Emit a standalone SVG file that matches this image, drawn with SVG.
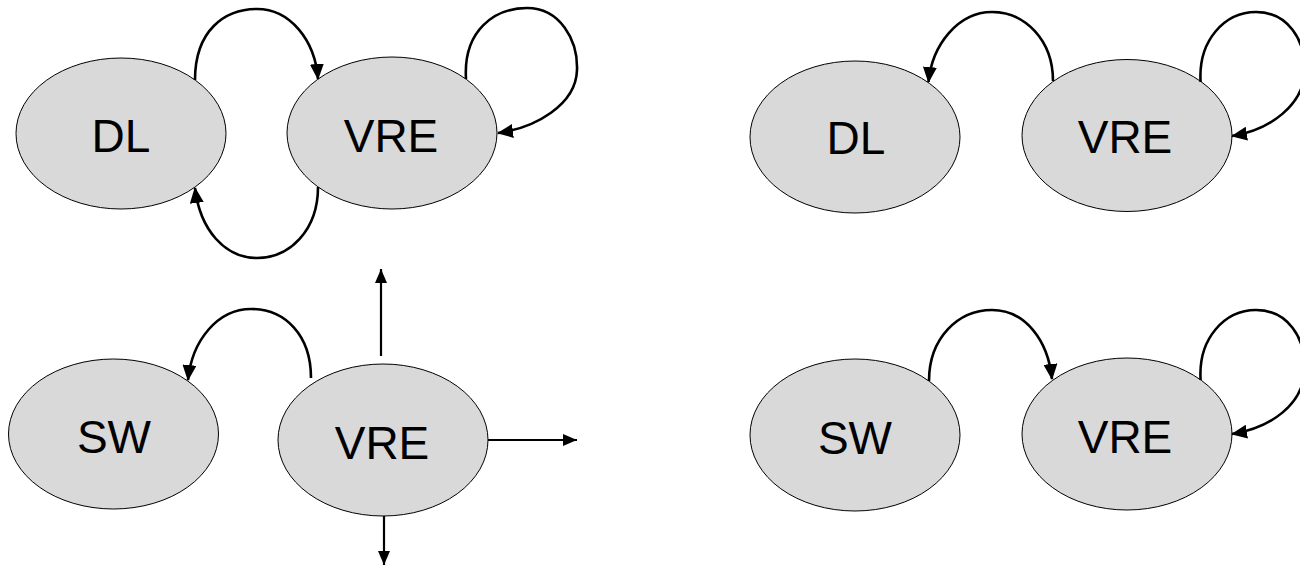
<svg xmlns="http://www.w3.org/2000/svg" width="1300" height="567" viewBox="0 0 1300 567">
<style>
.node ellipse{fill:#d9d9d9;stroke:#000;stroke-width:1}
.node text{font-family:"Liberation Sans",Arial,sans-serif;font-size:46px;fill:#000;text-anchor:middle}
.c{fill:none;stroke:#000;stroke-width:2.6;marker-end:url(#ah)}
.s{fill:none;stroke:#000;stroke-width:2.2;marker-end:url(#ah2)}
</style>
<defs>
<marker id="ah" markerUnits="userSpaceOnUse" viewBox="0 0 16 14" refX="15" refY="7" markerWidth="16" markerHeight="14" orient="auto">
<path d="M0,0 L16,7 L0,14 Z" fill="#000"/>
</marker>
<marker id="ah2" markerUnits="userSpaceOnUse" viewBox="0 0 14 12" refX="14" refY="6" markerWidth="14" markerHeight="12" orient="auto">
<path d="M0,0 L14,6 L0,12 Z" fill="#000"/>
</marker>
</defs>
<g id="tl-dl" class="node"><ellipse cx="121" cy="133.5" rx="105" ry="75.5"/><text x="121" y="152">DL</text></g>
<g id="tl-vre" class="node"><ellipse cx="392" cy="133" rx="105" ry="76"/><text x="391" y="152">VRE</text></g>
<g id="bl-sw" class="node"><ellipse cx="113.5" cy="434" rx="105" ry="75"/><text x="114" y="453">SW</text></g>
<g id="bl-vre" class="node"><ellipse cx="383" cy="440" rx="105" ry="76"/><text x="382" y="459">VRE</text></g>
<g id="tr-dl" class="node"><ellipse cx="855" cy="137" rx="105" ry="76"/><text x="856" y="154">DL</text></g>
<g id="tr-vre" class="node"><ellipse cx="1127" cy="135.5" rx="105" ry="76"/><text x="1125" y="153">VRE</text></g>
<g id="br-sw" class="node"><ellipse cx="855" cy="435" rx="105" ry="76"/><text x="855" y="454">SW</text></g>
<g id="br-vre" class="node"><ellipse cx="1127" cy="434" rx="105" ry="76"/><text x="1125" y="453">VRE</text></g>
<g id="connectors">
<path class="c" d="M195,80 C195,30 225,9 257,9 C290,9 315,40 318,79"/>
<path class="c" d="M466,79 C463,30 495,8 527,8 C560,8 578,40 577,70 C576,105 535,128 498,133"/>
<path class="c" d="M318,187 C318,230 290,258 257,258 C225,258 200,230 195,188"/>
<path class="c" d="M311,378 C311,335 285,309 251,309 C218,309 192,340 188,380"/>
<path class="s" d="M381,356 L381,269"/>
<path class="s" d="M488,440 L577,440"/>
<path class="s" d="M384,516 L384,565"/>
<path class="c" d="M1053,81 C1053,40 1025,12 992,12 C958,12 932,45 928.5,82"/>
<path class="c" d="M1200.6,82 C1198,40 1225,12 1256,12 C1288,12 1305,40 1305,70 C1304,105 1270,130 1232,136"/>
<path class="c" d="M929,381 C929,338 958,310 992,310 C1025,310 1048,340 1052,379"/>
<path class="c" d="M1200.6,380 C1198,338 1225,310 1256,310 C1288,310 1305,338 1305,368 C1304,405 1270,428 1232,434"/>
</g>
</svg>
